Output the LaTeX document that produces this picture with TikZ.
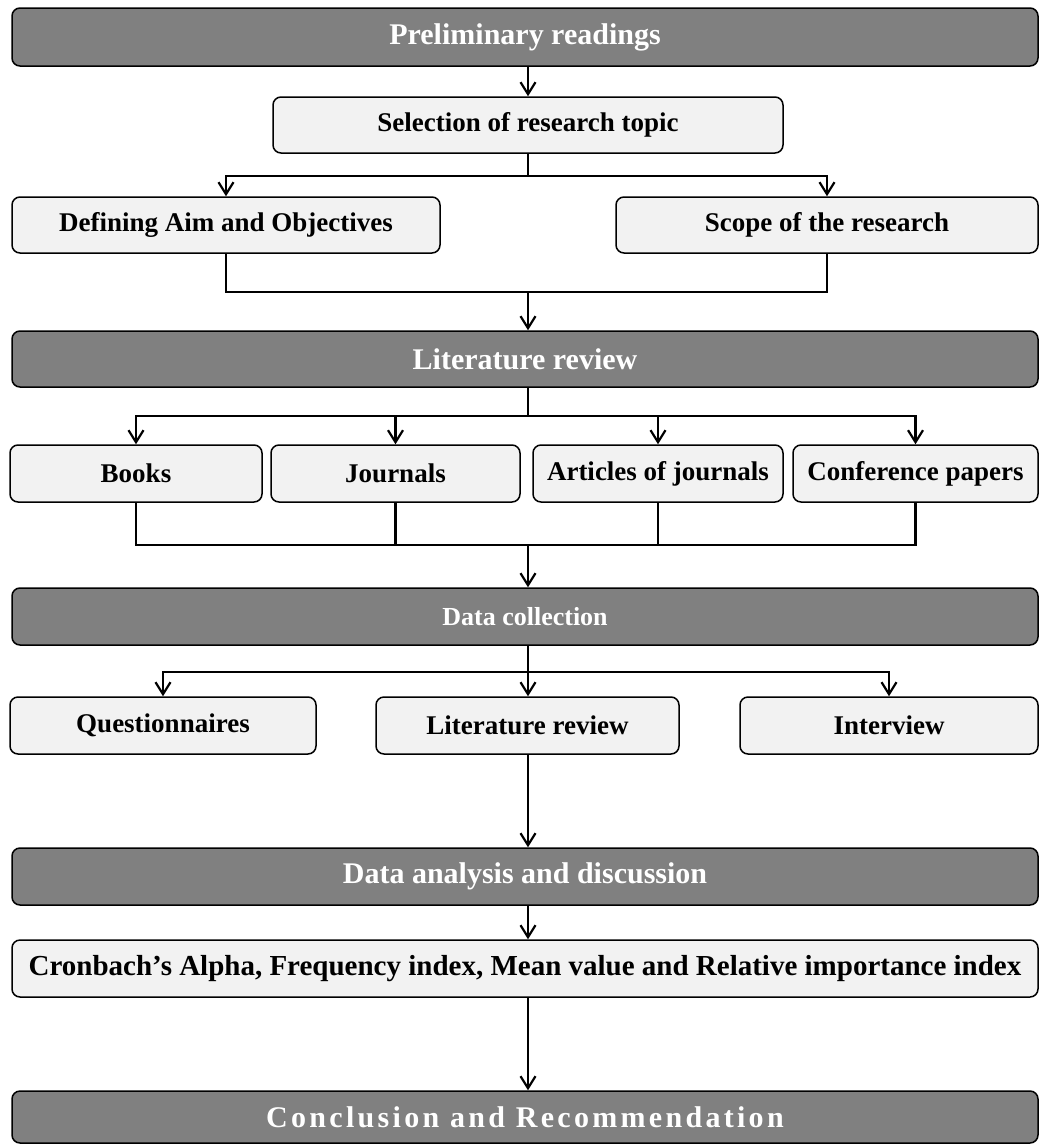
\documentclass[tikz,border=0pt]{standalone}
\usepackage{fontspec}
\setmainfont{Liberation Serif}
\usetikzlibrary{arrows.meta}
\definecolor{darkbox}{RGB}{128,128,128}
\definecolor{lightbox}{RGB}{242,242,242}
\begin{document}
\begin{tikzpicture}[x=1pt,y=-1pt,
  dark/.style={draw=black, line width=1.5pt, fill=darkbox, rounded corners=8pt, text=white,
    font=\bfseries\fontsize{30}{34}\selectfont, inner sep=0pt},
  light/.style={draw=black, line width=1.5pt, fill=lightbox, rounded corners=8pt,
    font=\bfseries\fontsize{27}{31}\selectfont, inner sep=0pt},
  conn/.style={line width=2.2pt},
  arr/.style={conn, -{Straight Barb[length=12pt,width=15pt,line width=2.2pt]}}]
\useasboundingbox (0,0) rectangle (1040,1144);

\node[dark, minimum width=1026pt, minimum height=58pt] (p) at (525,37) {Preliminary readings};
\node[light, minimum width=510pt, minimum height=56pt] (sel) at (528,125) {Selection of research topic};
\node[light, minimum width=428pt, minimum height=56pt] (aim) at (226,225) {Defining Aim and Objectives};
\node[light, minimum width=422pt, minimum height=56pt] (scope) at (827,225) {Scope of the research};
\node[dark, minimum width=1026pt, minimum height=56pt] (lit) at (525,359) {Literature review};
\node[light, minimum width=252pt, minimum height=57pt] (books) at (136,473.5) {Books};
\node[light, minimum width=249pt, minimum height=57pt] (journ) at (395.5,473.5) {Journals};
\node[light, minimum width=250pt, minimum height=57pt] (art) at (658,473.5) {Articles of journals};
\node[light, minimum width=245pt, minimum height=57pt] (conf) at (915.5,473.5) {Conference papers};
\node[dark, minimum width=1026pt, minimum height=57pt, font=\bfseries\fontsize{26}{30}\selectfont] (dc) at (525,616.5) {Data collection};
\node[light, minimum width=306pt, minimum height=57pt] (quest) at (163,725.5) {Questionnaires};
\node[light, minimum width=303pt, minimum height=57pt] (litr) at (527.5,725.5) {Literature review};
\node[light, minimum width=298pt, minimum height=57pt] (inter) at (889,725.5) {Interview};
\node[dark, minimum width=1026pt, minimum height=57pt] (da) at (525,876.5) {Data analysis and discussion};
\node[light, minimum width=1026pt, minimum height=57pt, font=\bfseries\fontsize{29}{33}\selectfont] (cron) at (525,968.5) {Cronbach’s Alpha, Frequency index, Mean value and Relative importance index};
\node[dark, minimum width=1026pt, minimum height=52pt, font=\bfseries\fontsize{30}{34}\selectfont\addfontfeature{LetterSpace=11}] (conc) at (525,1117) {Conclusion and Recommendation};

\coordinate (j1) at (528,176);
\coordinate (j2) at (528,292);
\coordinate (j3) at (528,416);
\coordinate (j4) at (528,545);
\coordinate (j5) at (528,672);

\draw[arr] (sel.north |- p.south) -- (sel.north);
\draw[conn] (sel.south) -- (j1);
\draw[arr] (j1) -| (aim.north);
\draw[arr] (j1) -| (scope.north);
\draw[conn] (aim.south) |- (j2) -| (scope.south);
\draw[arr] (j2) -- (lit.north -| j2);

\draw[conn] (lit.south -| j3) -- (j3);
\draw[arr] (j3) -| (books.north);
\draw[arr] (j3) -| (journ.north);
\draw[arr] (j3) -| (art.north);
\draw[arr] (j3) -| (conf.north);
\draw[conn] (books.south) |- (j4) -| (conf.south);
\draw[conn] (journ.south) -- (journ.south |- j4);
\draw[conn] (art.south) -- (art.south |- j4);
\draw[arr] (j4) -- (dc.north -| j4);

\draw[conn] (dc.south -| j5) -- (j5);
\draw[arr] (j5) -| (quest.north);
\draw[arr] (j5) -- (litr.north -| j5);
\draw[arr] (j5) -| (inter.north);
\draw[arr] (litr.south -| j5) -- (da.north -| j5);
\draw[arr] (da.south -| j5) -- (cron.north -| j5);
\draw[arr] (cron.south -| j5) -- (conc.north -| j5);
\end{tikzpicture}
\end{document}
